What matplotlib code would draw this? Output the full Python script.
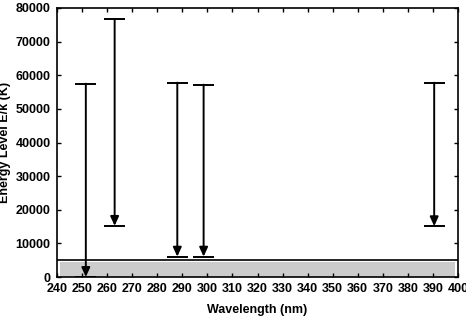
import matplotlib
matplotlib.use("Agg")
import matplotlib.pyplot as plt

plt.rcParams['font.family'] = ['Liberation Sans', 'DejaVu Sans']
plt.rcParams['font.weight'] = 'bold'

wavelengths = [251.5, 263.0, 288.0, 298.5, 390.5]
upper_levels = [57500, 76700, 57800, 57200, 57800]
lower_levels = [0, 15200, 6050, 6050, 15100]
threshold = 5000
cap_half = 4.2

fig = plt.figure(figsize=(4.66, 3.2), dpi=100)
ax = fig.add_axes([57/466, 1-277/320, (458-57)/466, (277-8)/320])

ax.fill_between([241, 399], 0, threshold*0.92, color='#cccccc', lw=0, zorder=1)
ax.axhline(threshold, color='black', lw=1.2, zorder=2)

for x, up, lo in zip(wavelengths, upper_levels, lower_levels):
    ax.hlines([up, lo], x-cap_half, x+cap_half, color='black', lw=1.4, zorder=3)
    ax.annotate('', xy=(x, lo), xytext=(x, up),
                arrowprops=dict(arrowstyle='-|>,head_length=0.55,head_width=0.25',
                                color='black', lw=1.4, shrinkA=0, shrinkB=0),
                zorder=4)

ax.set_xlim(240, 400)
ax.set_ylim(0, 80000)
ax.set_xticks(range(240, 401, 10))
ax.set_yticks(range(0, 80001, 10000))
ax.tick_params(direction='in', top=True, right=True, length=3, width=1,
               labelsize=9, pad=4.5)
for lab in ax.get_xticklabels() + ax.get_yticklabels():
    lab.set_fontweight('bold')
for s in ax.spines.values():
    s.set_linewidth(1.2)
ax.set_xlabel('Wavelength (nm)', fontsize=9, fontweight='bold', labelpad=6)
ax.set_ylabel('Energy Level E/k (K)', fontsize=9, fontweight='bold', labelpad=3)

fig.savefig('out.png', dpi=100)
